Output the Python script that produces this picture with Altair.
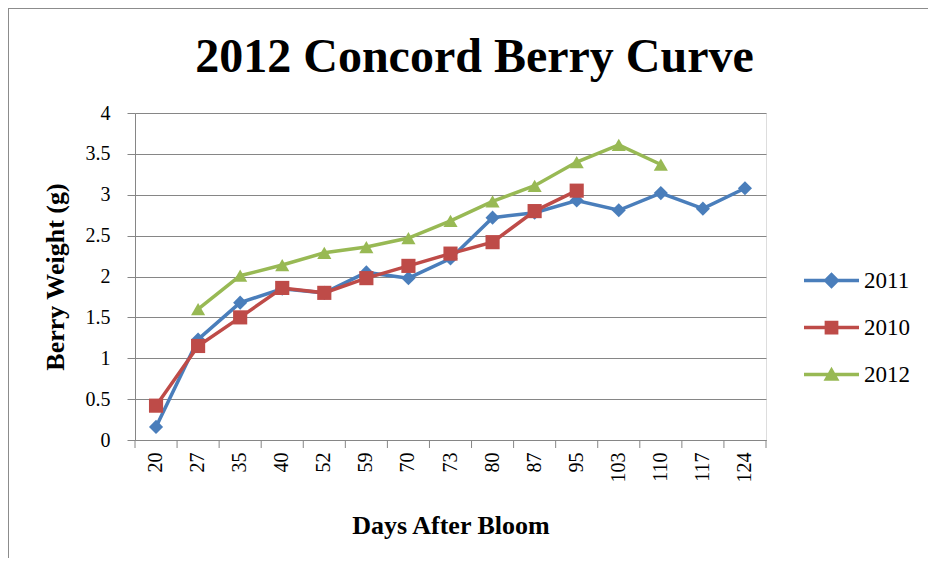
import altair as alt
import pandas as pd

days = ["20", "27", "35", "40", "52", "59", "70", "73", "80", "87", "95", "103", "110", "117", "124"]
w2011 = [0.16, 1.23, 1.68, 1.85, 1.80, 2.05, 1.98, 2.22, 2.72, 2.78, 2.93, 2.81, 3.02, 2.83, 3.08]
w2010 = [0.42, 1.15, 1.50, 1.86, 1.80, 1.98, 2.13, 2.28, 2.42, 2.80, 3.05]
w2012 = [None, 1.60, 2.01, 2.14, 2.29, 2.36, 2.47, 2.68, 2.92, 3.11, 3.40, 3.61, 3.37]

series = ["2011", "2010", "2012"]
colors = ["#4A7EBB", "#BE4B48", "#98B954"]
shapes = ["diamond", "square", "triangle-up"]
yticks = [0, 0.5, 1, 1.5, 2, 2.5, 3, 3.5, 4]

rows = []
for name, vals in zip(series, [w2011, w2010, w2012]):
    for d, v in zip(days, vals):
        if v is not None:
            rows.append({"day": d, "weight": v, "year": name})
df = pd.DataFrame(rows)
df_days = pd.DataFrame({"day": days})

FONT = "Liberation Serif"
GRAY = "#868686"

x_axis = alt.Axis(
    title="Days After Bloom", labelAngle=270, labelAlign="right", labelBaseline="middle",
    ticks=False, tickSize=0, labelPadding=12, labelFont=FONT, labelFontSize=20,
    labelColor="black", titleFont=FONT, titleFontSize=26, titleFontWeight="bold",
    titleColor="black", titlePadding=30, domainColor=GRAY, grid=False, labelFlush=False,
)
y_axis = alt.Axis(
    title="Berry Weight (g)", values=yticks, format="~g", tickSize=8, tickColor=GRAY,
    domainColor=GRAY, gridColor=GRAY, grid=True, labelFont=FONT, labelFontSize=20,
    labelColor="black", labelPadding=17, titleFont=FONT, titleFontSize=26,
    titleFontWeight="bold", titleColor="black", titlePadding=17,
)

def X(**kw):
    return alt.X("day:N", sort=days, axis=x_axis,
                 scale=alt.Scale(paddingInner=0, paddingOuter=0), **kw)

Y = alt.Y("weight:Q", axis=y_axis, scale=alt.Scale(domain=[0, 4], nice=False))

ld = 0.066
bar = f"M-1,-{ld}L1,-{ld}L1,{ld}L-1,{ld}Z "
legend_paths = [
    bar + "M0,-0.3L0.3,0L0,0.3L-0.3,0Z",
    bar + "M-0.25,-0.25L0.25,-0.25L0.25,0.25L-0.25,0.25Z",
    bar + "M0,-0.28L0.29,0.23L-0.29,0.23Z",
]

legend = alt.Legend(
    title=None, orient="none", legendX=669, legendY=140, symbolSize=3025,
    labelFont=FONT, labelFontSize=23, labelColor="black", labelOffset=5,
    rowPadding=7, padding=0, symbolStrokeWidth=0, symbolOpacity=1,
)
color = alt.Color("year:N", scale=alt.Scale(domain=series, range=colors), legend=legend)

base = alt.Chart(df)
layers = []
for name, shp in zip(series, shapes):
    sub = base.transform_filter(alt.datum.year == name)
    layers.append(sub.mark_line(strokeWidth=3.5).encode(x=X(), y=Y, color=color))
    layers.append(sub.mark_point(shape=shp, filled=True, size=200, opacity=1).encode(
        x=X(), y=Y, color=color))

# empty layer that only supplies the legend symbols (line + marker)
legend_layer = base.transform_filter("false").mark_point(filled=True, opacity=1).encode(
    x=X(), y=Y, color=color,
    shape=alt.Shape("year:N", scale=alt.Scale(domain=series, range=legend_paths), legend=legend),
)

ticks = alt.Chart(df_days).mark_rule(color=GRAY, strokeWidth=1).encode(
    x=X(bandPosition=0), y=alt.value(327), y2=alt.value(335))
last_tick = alt.Chart(df_days).transform_filter(alt.datum.day == days[-1]).mark_rule(
    color=GRAY, strokeWidth=1).encode(x=X(bandPosition=1), y=alt.value(327), y2=alt.value(335))

frame = alt.Chart(alt.Data(values=[{"a": 1}])).mark_rect(
    fillOpacity=0, stroke="#8C8C8C", strokeWidth=2).encode(
    x=alt.value(-127), x2=alt.value(900), y=alt.value(-105), y2=alt.value(600))

chart = alt.layer(frame, ticks, last_tick, *layers, legend_layer).properties(
    width=631, height=327,
    title=alt.TitleParams("2012 Concord Berry Curve", font=FONT, fontSize=48, fontWeight="bold",
                          color="black", anchor="middle", dx=24, dy=113, offset=0,
                          baseline="alphabetic"),
    autosize=alt.AutoSizeParams(type="none"),
    padding={"left": 127, "top": 105, "right": 162, "bottom": 118},
).configure_view(stroke=None).configure(background="white")

chart.save("out.html", embed_options={"renderer": "svg", "actions": False})
